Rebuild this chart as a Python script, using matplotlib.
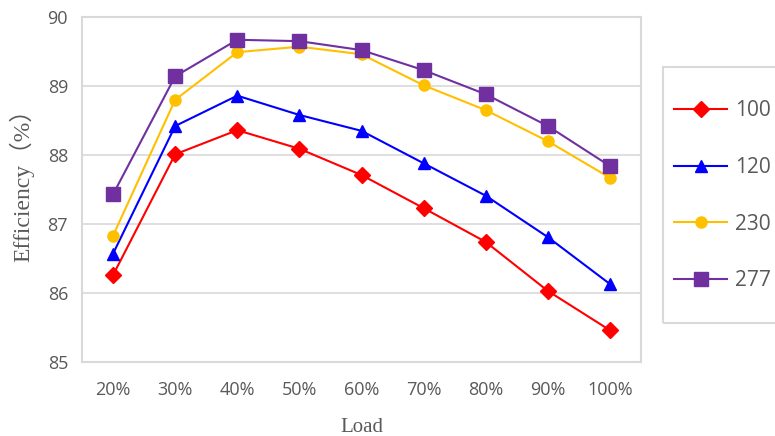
import matplotlib
matplotlib.use("Agg")
import matplotlib.pyplot as plt
from matplotlib.patches import Rectangle

# Efficiency vs. load for four input voltages
loads = ["20%", "30%", "40%", "50%", "60%", "70%", "80%", "90%", "100%"]
eff_100 = [86.26, 88.01, 88.36, 88.09, 87.71, 87.23, 86.74, 86.03, 85.46]
eff_120 = [86.57, 88.42, 88.86, 88.58, 88.35, 87.88, 87.41, 86.81, 86.13]
eff_230 = [86.83, 88.80, 89.49, 89.57, 89.46, 89.01, 88.65, 88.20, 87.67]
eff_277 = [87.43, 89.14, 89.67, 89.65, 89.52, 89.23, 88.88, 88.42, 87.84]
series_labels = ["100", "120", "230", "277"]
y_ticks = [85, 86, 87, 88, 89, 90]

colors = ["#FF0000", "#0000FF", "#FFC000", "#7030A0"]
markers = ["D", "^", "o", "s"]
msizes = [8, 8.5, 8, 9.5]

tick_font = ["Open Sans", "Noto Sans CJK SC", "DejaVu Sans"]
serif_font = ["Liberation Serif", "Noto Sans CJK SC", "DejaVu Serif"]
text_grey = "#595959"
grid_grey = "#D9D9D9"

fig = plt.figure(figsize=(7.75, 4.36), dpi=100)
ax = fig.add_axes([82 / 775, 1 - 362 / 436, 559 / 775, 345 / 436])

x = list(range(len(loads)))
for vals, c, m, ms, lab in zip([eff_100, eff_120, eff_230, eff_277],
                                colors, markers, msizes, series_labels):
    ax.plot(x, vals, color=c, marker=m, markersize=ms, linewidth=1.5,
            markeredgecolor=c, markerfacecolor=c, label=lab, zorder=3)

ax.set_xlim(-0.5, len(loads) - 0.5)
ax.set_ylim(85, 90)
ax.set_xticks(x)
ax.set_xticklabels(loads)
ax.set_yticks(y_ticks)
ax.set_yticklabels([str(v) for v in y_ticks])
for t in ax.get_xticklabels() + ax.get_yticklabels():
    t.set_family(tick_font)
    t.set_fontsize(13)
    t.set_color(text_grey)
ax.tick_params(axis="both", length=0)
ax.tick_params(axis="x", pad=14)
ax.tick_params(axis="y", pad=10)

ax.grid(axis="y", color=grid_grey, linewidth=1.2, zorder=0)
for s in ax.spines.values():
    s.set_color(grid_grey)
    s.set_linewidth(1.5)

ax.set_xlabel("Load", family=serif_font, fontsize=15, color=text_grey, labelpad=13)
ax.set_ylabel("Efficiency（%）", family=serif_font, fontsize=17, color=text_grey)
ax.yaxis.set_label_coords(-0.085, 0.53)

# Legend box on the right, partly running past the figure edge
fig.patches.append(Rectangle((663 / 775, 1 - 323 / 436), 140 / 775, 256 / 436,
                             transform=fig.transFigure, fill=False,
                             edgecolor=grid_grey, linewidth=1.5))
leg = fig.legend(loc="upper left", bbox_to_anchor=(674 / 775, 1 - 100 / 436),
                 frameon=False, prop={"family": tick_font, "size": 15},
                 handlelength=2.55, handletextpad=0.4, labelspacing=1.72,
                 borderpad=0, borderaxespad=0)
for t in leg.get_texts():
    t.set_color(text_grey)

fig.savefig("out.png", dpi=100)
